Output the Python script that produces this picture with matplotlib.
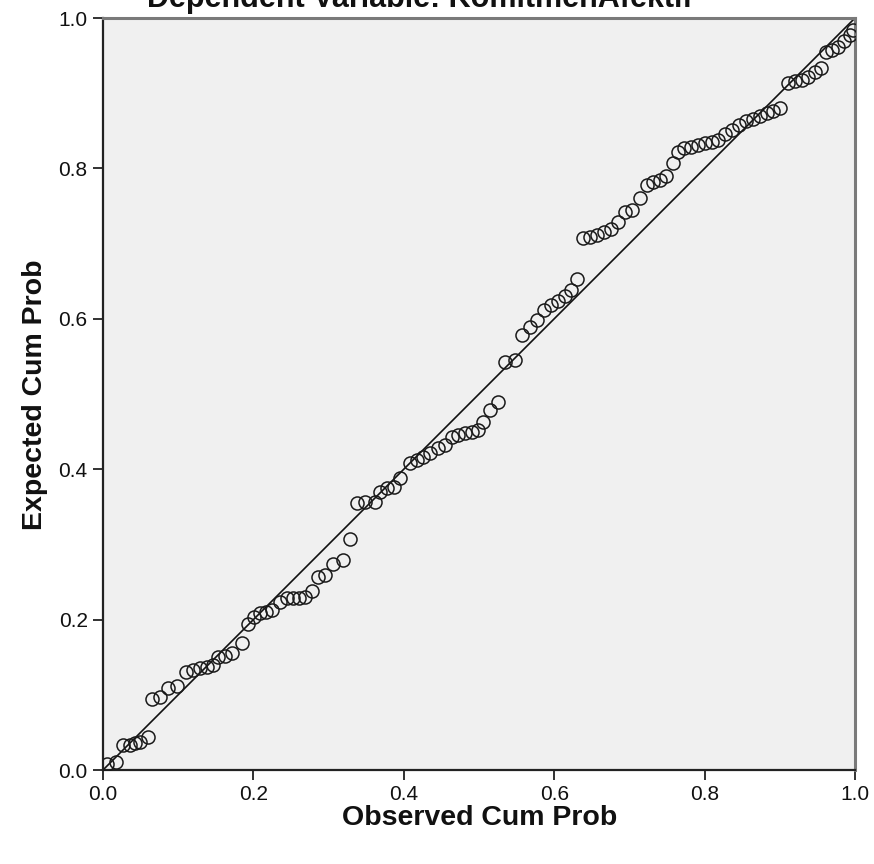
import matplotlib
matplotlib.use("Agg")
import matplotlib.pyplot as plt

observed = [0.005, 0.017, 0.027, 0.036, 0.043, 0.049, 0.060, 0.065, 0.076, 0.086,
            0.098, 0.110, 0.120, 0.129, 0.138, 0.146, 0.153, 0.162, 0.172, 0.185,
            0.193, 0.201, 0.209, 0.217, 0.225, 0.235, 0.245, 0.253, 0.261, 0.269,
            0.278, 0.286, 0.295, 0.306, 0.319, 0.328, 0.338, 0.348, 0.362, 0.368,
            0.378, 0.387, 0.395, 0.408, 0.418, 0.426, 0.435, 0.445, 0.455, 0.464,
            0.472, 0.481, 0.491, 0.499, 0.505, 0.515, 0.525, 0.535, 0.548, 0.557,
            0.568, 0.577, 0.586, 0.596, 0.605, 0.614, 0.622, 0.630, 0.638, 0.648,
            0.657, 0.666, 0.676, 0.685, 0.694, 0.703, 0.714, 0.723, 0.731, 0.741,
            0.749, 0.758, 0.765, 0.773, 0.782, 0.791, 0.801, 0.810, 0.818, 0.827,
            0.836, 0.846, 0.855, 0.864, 0.874, 0.883, 0.891, 0.900, 0.911, 0.920,
            0.930, 0.938, 0.947, 0.955, 0.961, 0.969, 0.977, 0.985, 0.993, 0.997]
expected = [0.008, 0.011, 0.033, 0.033, 0.036, 0.037, 0.044, 0.094, 0.097, 0.109,
            0.112, 0.130, 0.133, 0.136, 0.137, 0.140, 0.150, 0.152, 0.156, 0.169,
            0.194, 0.203, 0.209, 0.210, 0.213, 0.223, 0.229, 0.229, 0.229, 0.230,
            0.238, 0.257, 0.259, 0.274, 0.279, 0.307, 0.355, 0.356, 0.356, 0.370,
            0.375, 0.376, 0.388, 0.408, 0.412, 0.416, 0.422, 0.428, 0.432, 0.443,
            0.445, 0.448, 0.449, 0.452, 0.463, 0.479, 0.489, 0.543, 0.545, 0.578,
            0.589, 0.598, 0.612, 0.618, 0.624, 0.630, 0.638, 0.653, 0.707, 0.709,
            0.711, 0.715, 0.719, 0.729, 0.742, 0.745, 0.761, 0.778, 0.782, 0.785,
            0.790, 0.807, 0.822, 0.827, 0.828, 0.831, 0.834, 0.835, 0.838, 0.846,
            0.851, 0.858, 0.863, 0.866, 0.870, 0.874, 0.876, 0.880, 0.914, 0.916,
            0.918, 0.922, 0.928, 0.934, 0.955, 0.957, 0.961, 0.969, 0.977, 0.984]
ticks = [0.0, 0.2, 0.4, 0.6, 0.8, 1.0]
tick_labels = ["0.0", "0.2", "0.4", "0.6", "0.8", "1.0"]
title = "Dependent Variable: KomitmenAfektif"
xlabel = "Observed Cum Prob"
ylabel = "Expected Cum Prob"

plt.rcParams['font.family'] = ['Liberation Sans', 'DejaVu Sans']

fig = plt.figure(figsize=(8.74, 8.64), dpi=100)
ax = fig.add_axes([103/874, 94/864, 752/874, 752/864])
ax.set_facecolor('#f0f0f0')

ax.plot([0, 1], [0, 1], color='#111111', lw=1.2, zorder=2)
ax.plot(observed, expected, linestyle='none', marker='o', markersize=9.4,
        mfc='none', mec='#1a1a1a', mew=1.1, zorder=3)

ax.set_xlim(0, 1)
ax.set_ylim(0, 1)
ax.set_xticks(ticks)
ax.set_xticklabels(tick_labels)
ax.set_yticks(ticks)
ax.set_yticklabels(tick_labels)
ax.tick_params(axis='both', direction='out', length=7, width=1.3, color='#222222',
               labelsize=15, labelcolor='#111111', pad=4)

for s in ['left', 'bottom']:
    ax.spines[s].set_color('#222222')
    ax.spines[s].set_linewidth(1.6)
for s in ['top', 'right']:
    ax.spines[s].set_color('#7a7a7a')
    ax.spines[s].set_linewidth(2.2)

fig.text(420/874, 1 - 7/864, title, ha='center', va='baseline',
         fontsize=22, fontweight='bold', color='#111111')
fig.text(480/874, 1 - 818/864, xlabel, ha='center', va='center',
         fontsize=20.5, fontweight='bold', color='#111111')
fig.text(35/874, 1 - 395/864, ylabel, ha='center', va='center', rotation=90,
         fontsize=20.5, fontweight='bold', color='#111111')

fig.savefig('out.png', dpi=100, facecolor='white')
